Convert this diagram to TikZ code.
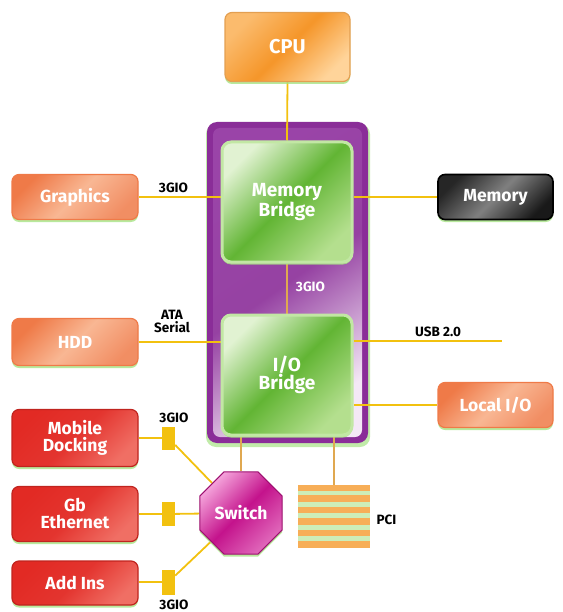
\documentclass[tikz,border=0pt]{standalone}
\usepackage{fontspec}
\setmainfont{Fira Sans}
\usetikzlibrary{shapes.geometric,shadows}

\definecolor{wire}{HTML}{F2C10F}
\definecolor{trunk}{HTML}{E0A850}
\definecolor{cpuA}{HTML}{F5962A}
\definecolor{cpuB}{HTML}{FFD49A}
\definecolor{salA}{HTML}{EF7A48}
\definecolor{salB}{HTML}{FBC6A6}
\definecolor{redA}{HTML}{E22A24}
\definecolor{redB}{HTML}{F68C80}
\definecolor{grnA}{HTML}{62B534}
\definecolor{grnB}{HTML}{B4DF8E}
\definecolor{grnEdge}{HTML}{C2E7A4}
\definecolor{purA}{HTML}{8A2D98}
\definecolor{purM}{HTML}{9A44A8}
\definecolor{purB}{HTML}{F4E8F6}
\definecolor{magA}{HTML}{C4138C}
\definecolor{magB}{HTML}{F4A2DA}
\definecolor{glow}{HTML}{A6E384}
\definecolor{pciBar}{HTML}{F7AE57}
\definecolor{pciGap}{HTML}{CDEDB8}

\pgfdeclarelayer{frame}
\pgfdeclarelayer{wires}
\pgfsetlayers{frame,wires,main}

% note: middle color is given last, as top/bottom color reset it
\tikzset{
  unit/.style={rounded corners=7pt, align=center, text=white, inner sep=2pt,
    font=\bfseries\fontsize{17.5}{17}\selectfont,
    drop shadow={fill=glow, shadow xshift=0pt, shadow yshift=-2.5pt, opacity=0.8}},
  cpubox/.style={unit, draw=cpuA!90!black!80, line width=1.2pt,
    top color=cpuB!60!cpuA, bottom color=cpuB, middle color=cpuA, shading angle=45},
  salbox/.style={unit, draw=salA, line width=1.2pt,
    top color=salA, bottom color=salA!85, middle color=salB!80!salA, shading angle=45},
  redbox/.style={unit, draw=redA!85!black, line width=1.2pt,
    top color=redA, bottom color=redB!70!redA, middle color=redA!95!white, shading angle=45},
  blackbox/.style={unit, draw=black, line width=1.6pt,
    top color=black!85, bottom color=black!90, middle color=black!50, shading angle=45},
  bridge/.style={unit, rounded corners=9pt, draw=grnEdge, line width=3pt,
    top color=grnB!40!white, bottom color=grnB, middle color=grnA, shading angle=45,
    font=\bfseries\fontsize{19}{18}\selectfont,
    minimum width=130pt, minimum height=120pt},
  plug/.style={fill=wire, draw=none, minimum width=13pt, inner sep=0pt},
  wirestyle/.style={draw=wire, line width=1.8pt},
  trunkstyle/.style={draw=trunk, line width=1.8pt},
  tag/.style={font=\bfseries\fontsize{13.5}{13}\selectfont, text=black, align=center, inner sep=0pt},
  pcibar/.style={fill=pciBar, draw=none, minimum width=72pt, minimum height=6.5pt, inner sep=0pt}
}

\begin{document}
\begin{tikzpicture}[x=1pt, y=-1pt]
\useasboundingbox (0,0) rectangle (562,612);

% processor and bridges
\node[cpubox, minimum width=125pt, minimum height=69pt, font=\bfseries\fontsize{20}{20}\selectfont] (cpu) at (287.5,47) {CPU};
\node[bridge] (mb) at (287,202) {Memory\\Bridge};
\node[bridge] (iob) at (287,375) {I/O\\Bridge};

% peripheral units
\node[salbox, minimum width=126pt, minimum height=45pt] (gfx) at (75,197) {Graphics};
\node[salbox, minimum width=126pt, minimum height=47pt] (hdd) at (75,342) {HDD};
\node[blackbox, minimum width=115pt, minimum height=45pt] (mem) at (495.5,197) {Memory};
\node[salbox, minimum width=115pt, minimum height=45pt] (lio) at (495.5,405) {Local I/O};
\node[redbox, minimum width=126pt, minimum height=57pt] (dock) at (75,438) {Mobile\\Docking};
\node[redbox, minimum width=126pt, minimum height=55pt] (geth) at (75,514) {Gb\\Ethernet};
\node[redbox, minimum width=126pt, minimum height=44pt] (addins) at (75,583) {Add Ins};

% switch
\node[regular polygon, regular polygon sides=8, minimum size=89pt, inner sep=0pt,
  draw=magA!80!black, line width=1.2pt,
  top color=magB, bottom color=magB!60!magA, middle color=magA, shading angle=45,
  text=white, font=\bfseries\fontsize{17.5}{17}\selectfont,
  drop shadow={fill=glow, shadow xshift=0pt, shadow yshift=-2.5pt, opacity=0.8}] (sw) at (241,513) {Switch};

% 3GIO plugs
\node[plug, minimum height=23pt] (c1) at (168.5,438) {};
\node[plug, minimum height=24pt] (c2) at (168.5,514) {};
\node[plug, minimum height=25pt] (c3) at (168.5,582) {};

% PCI slots
\node[fill=pciGap, draw=none, minimum width=72pt, minimum height=63pt, inner sep=0pt] (pcibg) at (334,516.5) {};
\node[pcibar] (pci1) at (334,488) {};
\node[pcibar] (pci2) at (334,498.5) {};
\node[pcibar] (pci3) at (334,510) {};
\node[pcibar] (pci4) at (334,521.5) {};
\node[pcibar] (pci5) at (334,533) {};
\node[pcibar] (pci6) at (334,544.5) {};

% endpoint of the USB line
\coordinate (usb) at (502,341);

% labels
\node[tag] (t1) at (173.5,187.5) {3GIO};
\node[tag, text=white] (t2) at (310.5,287) {3GIO};
\node[tag] (t3) at (172,321) {ATA\\Serial};
\node[tag] (t4) at (438,332) {USB 2.0};
\node[tag] (t5) at (174,417.5) {3GIO};
\node[tag] (t6) at (174,605) {3GIO};
\node[tag] (t7) at (386.5,520) {PCI};

% chipset frame
\begin{pgfonlayer}{frame}
  \fill[glow!70, rounded corners=10pt] (206,124) rectangle (370,447);
  \fill[purA, rounded corners=10pt] (207,122) rectangle (368,443);
  \shade[rounded corners=7pt, top color=purM, bottom color=purB, middle color=purA!90!white, shading angle=35]
    (213,128) rectangle (362,437);
\end{pgfonlayer}

% interconnects
\begin{pgfonlayer}{wires}
  \draw[wirestyle] (cpu.south) -- (mb.north);
  \draw[trunkstyle] (mb.south) -- (iob.north);
  \draw[wirestyle] (gfx.east) -- (gfx.east -| mb.west);
  \draw[wirestyle] (mem.west) -- (mem.west -| mb.east);
  \draw[wirestyle] (hdd.east) -- (hdd.east -| iob.west);
  \draw[wirestyle] (usb -| iob.east) -- (usb);
  \draw[wirestyle] (lio.west) -- (lio.west -| iob.east);
  \draw[trunkstyle] (sw.north |- iob.south) -- (sw.north);
  \draw[trunkstyle] (pci1.north |- iob.south) -- (pci1.north);
  \draw[wirestyle] (dock.east |- c1) -- (c1);
  \draw[wirestyle] (geth.east |- c2) -- (c2);
  \draw[wirestyle] (addins.east |- c3) -- (c3);
  \draw[wirestyle] (c1) -- (sw);
  \draw[wirestyle] (c2) -- (sw);
  \draw[wirestyle] (c3) -- (sw);
\end{pgfonlayer}
\end{tikzpicture}
\end{document}
